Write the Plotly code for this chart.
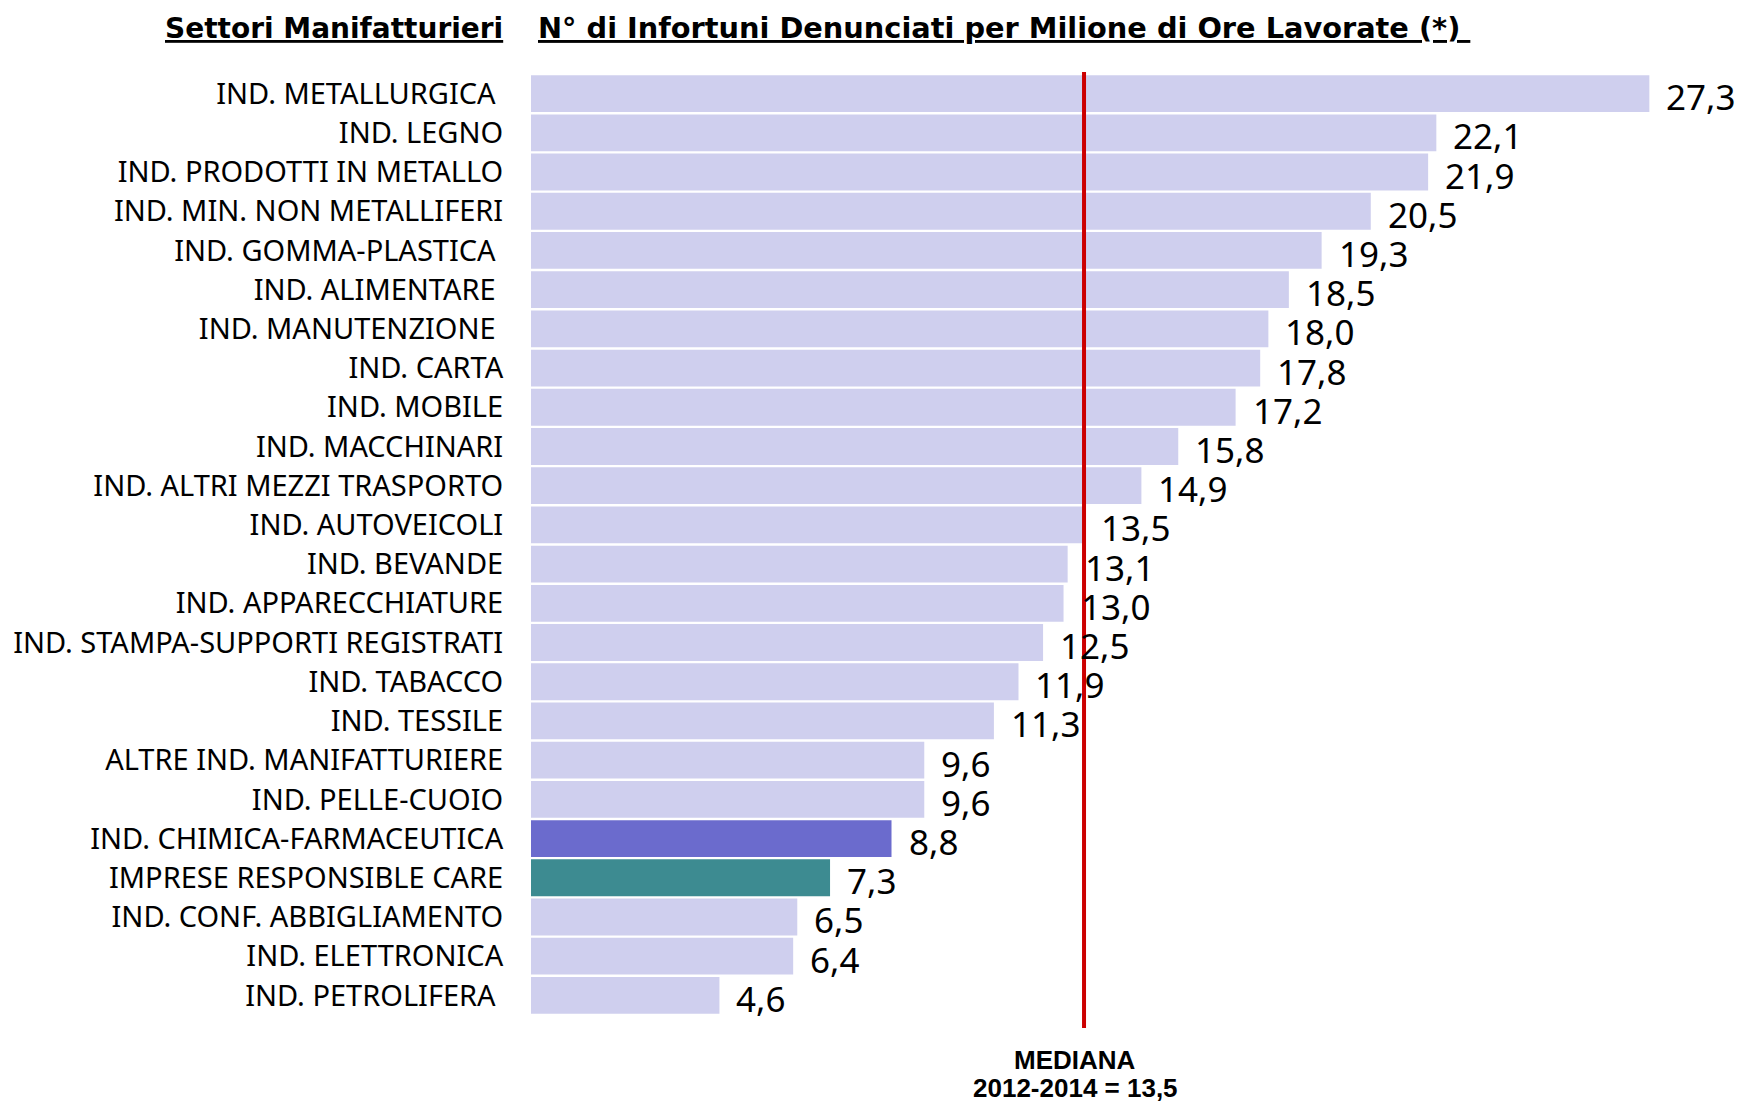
import plotly.graph_objects as go

categories = ["IND. METALLURGICA\u00a0", "IND. LEGNO", "IND. PRODOTTI IN METALLO",
              "IND. MIN. NON METALLIFERI", "IND. GOMMA-PLASTICA\u00a0", "IND. ALIMENTARE\u00a0",
              "IND. MANUTENZIONE\u00a0", "IND. CARTA", "IND. MOBILE", "IND. MACCHINARI",
              "IND. ALTRI MEZZI TRASPORTO", "IND. AUTOVEICOLI", "IND. BEVANDE",
              "IND. APPARECCHIATURE", "IND. STAMPA-SUPPORTI REGISTRATI", "IND. TABACCO",
              "IND. TESSILE", "ALTRE IND. MANIFATTURIERE", "IND. PELLE-CUOIO",
              "IND. CHIMICA-FARMACEUTICA", "IMPRESE RESPONSIBLE CARE", "IND. CONF. ABBIGLIAMENTO",
              "IND. ELETTRONICA", "IND. PETROLIFERA\u00a0"]
values = [27.3, 22.1, 21.9, 20.5, 19.3, 18.5, 18.0, 17.8, 17.2, 15.8, 14.9, 13.5,
          13.1, 13.0, 12.5, 11.9, 11.3, 9.6, 9.6, 8.8, 7.3, 6.5, 6.4, 4.6]
highlight = {"IND. CHIMICA-FARMACEUTICA": "#6B6BCD", "IMPRESE RESPONSIBLE CARE": "#3D8B91"}
median_value = 13.5
median_line1 = "<b>MEDIANA</b>"
median_line2 = "<b>2012-2014 = 13,5</b>"
title_left = "Settori Manifatturieri"
title_right = "N° di Infortuni Denunciati per Milione di Ore Lavorate (*) "

BASE = "#CFCFEE"
colors = [highlight.get(c, BASE) for c in categories]
labels = [f"{v:.1f}".replace(".", ",") for v in values]

W, H = 1737, 1105
L, R_ = 531, 18
T, B = 74, 90
xmax = 29.0
pw = W - L - R_
ph = H - T - B
n = len(categories)

def px_x(px):
    return (px - L) / pw

def px_y(py):
    return 1 - (py - T) / ph

LABEL_FONT = "Noto Sans, Tahoma, sans-serif"

fig = go.Figure()
fig.add_trace(go.Bar(
    x=values, y=categories, orientation="h",
    marker=dict(color=colors, line=dict(width=0)),
    hoverinfo="skip",
))

for c, v, t in zip(categories, values, labels):
    fig.add_annotation(x=v, y=c, xref="x", yref="y", text=t, showarrow=False,
                       xanchor="left", yanchor="middle", xshift=15, yshift=-3,
                       font=dict(family=LABEL_FONT, size=35, color="#000"))

fig.add_shape(type="line", xref="x", yref="paper", x0=median_value, x1=median_value,
              y0=px_y(1028), y1=px_y(72), line=dict(color="#CC0000", width=4), layer="above")

fig.add_annotation(x=px_x(1075), y=px_y(1060), xref="paper", yref="paper",
                   text=median_line1, showarrow=False, xanchor="center", yanchor="middle",
                   font=dict(family="Liberation Sans, Arial, sans-serif", size=26, color="#000"))
fig.add_annotation(x=px_x(1075), y=px_y(1088), xref="paper", yref="paper",
                   text=median_line2, showarrow=False, xanchor="center", yanchor="middle",
                   font=dict(family="Liberation Sans, Arial, sans-serif", size=26, color="#000"))

fig.add_annotation(x=px_x(163), y=px_y(28), xref="paper", yref="paper",
                   text=f"<b><u>{title_left}</u></b>", showarrow=False,
                   xanchor="left", yanchor="middle",
                   font=dict(family="DejaVu Sans, Tahoma, sans-serif", size=28, color="#000"))
fig.add_annotation(x=px_x(536), y=px_y(28), xref="paper", yref="paper",
                   text=f"<b><u>{title_right}</u></b>", showarrow=False,
                   xanchor="left", yanchor="middle",
                   font=dict(family="DejaVu Sans, Tahoma, sans-serif", size=28.8, color="#000"))

fig.update_layout(
    width=W, height=H,
    margin=dict(l=L, r=R_, t=T, b=B, autoexpand=False),
    plot_bgcolor="white", paper_bgcolor="white",
    bargap=0.06, showlegend=False,
    xaxis=dict(range=[0, xmax], visible=False, fixedrange=True),
    yaxis=dict(type="category", categoryorder="array", categoryarray=categories,
               range=[n - 0.5, -0.5], autorange=False, fixedrange=True,
               showgrid=False, zeroline=False, showline=False,
               ticks="outside", ticklen=21, tickcolor="rgba(0,0,0,0)",
               tickfont=dict(family=LABEL_FONT, size=29, color="#000")),
)

fig.write_html("out.html", config={"displayModeBar": False},
               post_script="document.body.style.margin='0';document.body.style.overflow='hidden';")
